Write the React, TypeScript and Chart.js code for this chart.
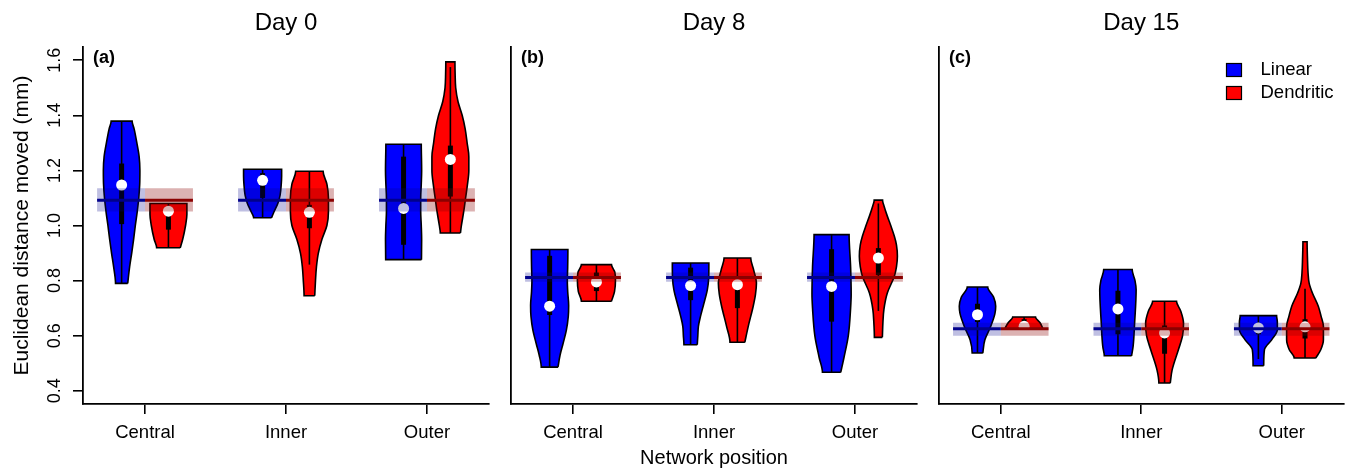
import React, { useEffect, useRef } from "react";
import { Chart, registerables } from "chart.js";

Chart.register(...registerables);

const FONT = '"Liberation Sans", Arial, Helvetica, sans-serif';
Chart.defaults.font.family = FONT;
Chart.defaults.color = "#000";

// ---------------- data ----------------
const days = ["Day 0", "Day 8", "Day 15"];
const panelTags = ["(a)", "(b)", "(c)"];
const positions = ["Central", "Inner", "Outer"];
const groups = ["Linear", "Dendritic"];
const yTicks = [0.4, 0.6, 0.8, 1.0, 1.2, 1.4, 1.6];

// model mean and its interval, per day
const refMean = [1.092, 0.811, 0.625];
const refLow = [1.051, 0.796, 0.6];
const refHigh = [1.135, 0.829, 0.647];

// violin order: Central-Linear, Central-Dendritic, Inner-Linear, Inner-Dendritic, Outer-Linear, Outer-Dendritic
const day0Levels = [
  [0.79, 0.85, 0.9, 0.95, 1.0, 1.05, 1.1, 1.15, 1.2, 1.25, 1.3, 1.35, 1.379],
  [0.919, 0.95, 1.0, 1.04, 1.08],
  [1.028, 1.05, 1.08, 1.11, 1.15, 1.18, 1.204],
  [0.745, 0.8, 0.85, 0.9, 0.95, 1.0, 1.05, 1.1, 1.15, 1.197],
  [0.876, 0.95, 1.0, 1.05, 1.1, 1.15, 1.2, 1.295],
  [0.973, 1.0, 1.05, 1.1, 1.15, 1.2, 1.25, 1.3, 1.35, 1.4, 1.45, 1.5, 1.55, 1.594],
];
const day0Widths = [
  [0.32, 0.42, 0.53, 0.63, 0.72, 0.82, 0.9, 0.95, 0.96, 0.92, 0.8, 0.66, 0.55],
  [0.62, 0.75, 0.9, 0.97, 0.97],
  [0.47, 0.6, 0.8, 0.92, 0.98, 1.0, 1.0],
  [0.28, 0.32, 0.37, 0.47, 0.66, 0.92, 1.0, 1.0, 0.92, 0.72],
  [0.94, 0.95, 0.93, 0.9, 0.9, 0.93, 0.95, 0.93],
  [0.53, 0.58, 0.7, 0.8, 0.9, 0.97, 0.97, 0.88, 0.78, 0.62, 0.4, 0.28, 0.25, 0.24],
];
const day0Median = [1.147, 1.052, 1.164, 1.048, 1.062, 1.24];
const day0BoxLow = [1.005, 0.985, 1.1, 0.99, 0.93, 1.105];
const day0BoxHigh = [1.225, 1.055, 1.19, 1.075, 1.25, 1.29];
const day0WhiskerLow = [0.79, 0.919, 1.028, 0.858, 0.876, 0.973];
const day0WhiskerHigh = [1.379, 1.08, 1.204, 1.197, 1.295, 1.575];

const day8Levels = [
  [0.486, 0.53, 0.57, 0.62, 0.67, 0.71, 0.76, 0.8, 0.85, 0.913],
  [0.725, 0.76, 0.8, 0.83, 0.858],
  [0.567, 0.6, 0.634, 0.67, 0.707, 0.767, 0.81, 0.864],
  [0.576, 0.634, 0.707, 0.75, 0.79, 0.84, 0.882],
  [0.467, 0.52, 0.6, 0.7, 0.75, 0.85, 0.967],
  [0.594, 0.65, 0.695, 0.755, 0.816, 0.85, 0.888, 0.93, 0.961, 1.0, 1.034, 1.07, 1.092],
];
const day8Widths = [
  [0.44, 0.55, 0.7, 0.88, 0.98, 1.0, 0.95, 0.93, 0.95, 0.96],
  [0.79, 0.95, 1.0, 0.97, 0.79],
  [0.35, 0.38, 0.41, 0.52, 0.66, 0.88, 0.95, 0.96],
  [0.39, 0.57, 0.83, 0.95, 1.0, 0.85, 0.7],
  [0.48, 0.65, 0.88, 1.0, 1.03, 1.0, 0.92],
  [0.21, 0.24, 0.29, 0.47, 0.84, 0.95, 1.0, 0.95, 0.84, 0.65, 0.47, 0.3, 0.22],
];
const day8Median = [0.707, 0.795, 0.782, 0.785, 0.779, 0.882];
const day8BoxLow = [0.675, 0.762, 0.729, 0.7, 0.651, 0.82];
const day8BoxHigh = [0.89, 0.829, 0.847, 0.8, 0.914, 0.918];
const day8WhiskerLow = [0.486, 0.725, 0.567, 0.576, 0.467, 0.69];
const day8WhiskerHigh = [0.913, 0.858, 0.864, 0.882, 0.967, 1.08];

const day15Levels = [
  [0.537, 0.585, 0.634, 0.68, 0.707, 0.74, 0.777],
  [0.624, 0.646, 0.668],
  [0.527, 0.561, 0.646, 0.767, 0.8, 0.84],
  [0.428, 0.476, 0.549, 0.6, 0.645, 0.69, 0.725],
  [0.491, 0.549, 0.585, 0.622, 0.65, 0.673],
  [0.519, 0.549, 0.585, 0.634, 0.67, 0.707, 0.755, 0.79, 0.828, 0.88, 0.941],
];
const day15Widths = [
  [0.28, 0.39, 0.7, 0.92, 0.96, 0.85, 0.54],
  [1.0, 0.85, 0.6],
  [0.72, 0.8, 0.88, 0.96, 0.9, 0.75],
  [0.3, 0.4, 0.73, 0.95, 1.0, 0.85, 0.63],
  [0.28, 0.32, 0.7, 1.0, 1.0, 0.96],
  [0.57, 0.83, 0.97, 0.97, 0.85, 0.7, 0.39, 0.22, 0.16, 0.13, 0.11],
];
const day15Median = [0.676, 0.634, 0.697, 0.61, 0.628, 0.632];
const day15BoxLow = [0.65, 0.628, 0.605, 0.534, 0.605, 0.59];
const day15BoxHigh = [0.716, 0.66, 0.763, 0.637, 0.646, 0.66];
const day15WhiskerLow = [0.537, 0.624, 0.527, 0.428, 0.515, 0.519];
const day15WhiskerHigh = [0.777, 0.668, 0.84, 0.725, 0.673, 0.77];

const allLevels = [day0Levels, day8Levels, day15Levels];
const allWidths = [day0Widths, day8Widths, day15Widths];
const allMedian = [day0Median, day8Median, day15Median];
const allBoxLow = [day0BoxLow, day8BoxLow, day15BoxLow];
const allBoxHigh = [day0BoxHigh, day8BoxHigh, day15BoxHigh];
const allWhiskerLow = [day0WhiskerLow, day8WhiskerLow, day15WhiskerLow];
const allWhiskerHigh = [day0WhiskerHigh, day8WhiskerHigh, day15WhiskerHigh];

// ---------------- style ----------------
const groupFill = ["#0000ff", "#ff0000"];
const bandFill = ["rgba(0,0,139,0.25)", "rgba(139,0,0,0.3)"];
const lineColor = ["#00008b", "#8b0000"];
const X_MIN = 0.56;
const X_MAX = 3.44;
const Y_MIN = 0.352;
const Y_MAX = 1.648;
const GROUP_OFFSET = 0.166;
const WEX = 0.135;
const BAND_HALF = 0.34;

const canvasLeft = [0, 495, 923];
const canvasWidth = [495, 428, 426];
const yAxisWidth = [83, 16, 16];
const padRight = [6, 6, 4];
const H = 472;

function buildDatasets(d: number) {
  const out: any[] = [];
  const levels = allLevels[d];
  const widths = allWidths[d];
  for (let p = 0; p < positions.length; p++) {
    for (let g = 0; g < groups.length; g++) {
      const k = p * groups.length + g;
      const cx = p + 1 + (g === 0 ? -GROUP_OFFSET : GROUP_OFFSET);
      const right = levels[k].map((y, i) => ({ x: cx + widths[k][i] * WEX, y }));
      const left = levels[k].map((y, i) => ({ x: cx - widths[k][i] * WEX, y })).reverse();
      out.push({
        label: `${positions[p]} ${groups[g]}`,
        data: [...right, ...left, right[0]],
        indexAxis: "y",
        cubicInterpolationMode: "monotone",
        fill: "shape",
        backgroundColor: groupFill[g],
        borderColor: "#000",
        borderWidth: 1.6,
        pointRadius: 0,
        order: 6,
      });
      out.push({
        data: [
          { x: cx, y: allWhiskerLow[d][k] },
          { x: cx, y: allWhiskerHigh[d][k] },
        ],
        borderColor: "#000",
        borderWidth: 1.6,
        pointRadius: 0,
        fill: false,
        order: 5,
      });
      out.push({
        data: [
          { x: cx, y: allBoxLow[d][k] },
          { x: cx, y: allBoxHigh[d][k] },
        ],
        borderColor: "#000",
        borderWidth: 5,
        pointRadius: 0,
        fill: false,
        order: 4,
      });
      out.push({
        data: [{ x: cx, y: allMedian[d][k] }],
        showLine: false,
        pointRadius: 5.5,
        pointBackgroundColor: "#ffffff",
        pointBorderWidth: 0,
        pointBorderColor: "rgba(0,0,0,0)",
        order: 3,
      });
    }
    for (let g = 0; g < groups.length; g++) {
      const x0 = p + 1 + (g === 0 ? -BAND_HALF : 0);
      const x1 = x0 + BAND_HALF;
      out.push({
        data: [
          { x: x0, y: refLow[d] },
          { x: x1, y: refLow[d] },
          { x: x1, y: refHigh[d] },
          { x: x0, y: refHigh[d] },
          { x: x0, y: refLow[d] },
        ],
        fill: "shape",
        backgroundColor: bandFill[g],
        borderColor: "rgba(0,0,0,0)",
        borderWidth: 0,
        pointRadius: 0,
        order: 2,
      });
      out.push({
        data: [
          { x: x0, y: refMean[d] },
          { x: x1, y: refMean[d] },
        ],
        borderColor: lineColor[g],
        borderWidth: 3,
        pointRadius: 0,
        fill: false,
        order: 1,
      });
    }
  }
  return out;
}

const panelDecor = {
  id: "panelDecor",
  afterDatasetsDraw(chart: any, _args: any, opts: any) {
    const { ctx, chartArea } = chart;
    ctx.save();
    ctx.fillStyle = "#000";
    ctx.font = `bold 18px ${FONT}`;
    ctx.textAlign = "left";
    ctx.textBaseline = "middle";
    ctx.fillText(opts.tag, chartArea.left + 10, chartArea.top + 11);
    if (opts.showLegend) {
      ctx.font = `18.5px ${FONT}`;
      groups.forEach((name, g) => {
        const yc = chartArea.top + 23 + g * 23;
        const bx = chartArea.right - 117;
        ctx.fillStyle = groupFill[g];
        ctx.fillRect(bx, yc - 6.5, 15, 13);
        ctx.strokeStyle = "#000";
        ctx.lineWidth = 1.2;
        ctx.strokeRect(bx, yc - 6.5, 15, 13);
        ctx.fillStyle = "#000";
        ctx.fillText(name, chartArea.right - 83, yc);
      });
    }
    ctx.restore();
  },
};

function makeConfig(d: number): any {
  const first = d === 0;
  return {
    type: "line",
    data: { datasets: buildDatasets(d) },
    options: {
      responsive: false,
      animation: false,
      events: [],
      layout: { padding: { left: 0, right: padRight[d], top: 0, bottom: 0 } },
      plugins: {
        legend: { display: false },
        tooltip: { enabled: false },
        title: {
          display: true,
          text: days[d],
          fullSize: false,
          color: "#000",
          font: { size: 24, weight: "normal", family: FONT },
          padding: { top: 8.6, bottom: 9.6 },
        },
        panelDecor: { tag: panelTags[d], showLegend: d === 2 },
      },
      scales: {
        x: {
          type: "linear",
          min: X_MIN,
          max: X_MAX,
          afterBuildTicks: (s: any) => {
            s.ticks = positions.map((_, i) => ({ value: i + 1 }));
          },
          afterFit: (s: any) => {
            s.height = H - 404;
          },
          ticks: {
            autoSkip: false,
            maxRotation: 0,
            padding: 8,
            color: "#000",
            font: { size: 18.5, family: FONT },
            callback: (v: any) => positions[Math.round(Number(v)) - 1] ?? "",
          },
          grid: {
            drawOnChartArea: false,
            drawTicks: true,
            tickLength: 10,
            color: "#000",
            lineWidth: 1.6,
          },
          border: { display: true, color: "#000", width: 1.8 },
          title: {
            display: d === 1,
            text: "Network position",
            color: "#000",
            font: { size: 20, family: FONT },
            padding: { top: 0, bottom: 2 },
          },
        },
        y: {
          type: "linear",
          min: Y_MIN,
          max: Y_MAX,
          afterBuildTicks: (s: any) => {
            s.ticks = yTicks.map((v) => ({ value: v }));
          },
          afterFit: (s: any) => {
            s.width = yAxisWidth[d];
          },
          ticks: {
            display: first,
            autoSkip: false,
            minRotation: 90,
            maxRotation: 90,
            crossAlign: "center",
            padding: 5,
            color: "#000",
            font: { size: 18, family: FONT },
            callback: (v: any) => Number(v).toFixed(1),
          },
          grid: {
            display: first,
            drawOnChartArea: false,
            drawTicks: true,
            tickLength: 10,
            color: "#000",
            lineWidth: 1.6,
          },
          border: { display: true, color: "#000", width: 1.8 },
          title: {
            display: first,
            text: "Euclidean distance moved (mm)",
            color: "#000",
            font: { size: 21, family: FONT },
            padding: { top: 10, bottom: 0 },
          },
        },
      },
    },
    plugins: [panelDecor],
  };
}

export default function App() {
  const r0 = useRef<HTMLCanvasElement>(null);
  const r1 = useRef<HTMLCanvasElement>(null);
  const r2 = useRef<HTMLCanvasElement>(null);

  useEffect(() => {
    const refs = [r0, r1, r2];
    const charts = refs.map((r, d) => new Chart(r.current as HTMLCanvasElement, makeConfig(d)));
    return () => charts.forEach((c) => c.destroy());
  }, []);

  const refs = [r0, r1, r2];
  return (
    <div
      style={{
        position: "absolute",
        left: 0,
        top: 0,
        width: 1349,
        height: H,
        background: "#fff",
        overflow: "hidden",
      }}
    >
      {refs.map((r, d) => (
        <canvas
          key={d}
          ref={r}
          width={canvasWidth[d]}
          height={H}
          style={{
            position: "absolute",
            left: canvasLeft[d],
            top: 0,
            width: canvasWidth[d],
            height: H,
          }}
        />
      ))}
    </div>
  );
}
